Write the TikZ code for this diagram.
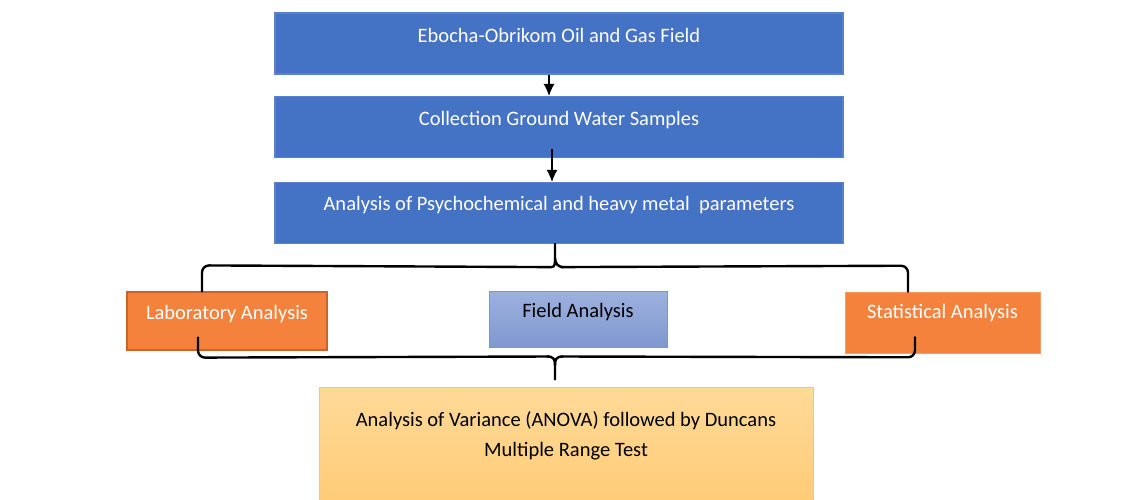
\documentclass[tikz,border=0pt]{standalone}
\usepackage{fontspec}
\setmainfont{Carlito}
\usetikzlibrary{arrows.meta,calc}
\definecolor{mblue}{HTML}{4472C4}
\definecolor{mblueedge}{HTML}{5A82CB}
\definecolor{morange}{HTML}{F4823C}
\definecolor{morangeedge}{HTML}{C8652E}
\definecolor{fieldtop}{HTML}{9DB1DE}
\definecolor{fieldbot}{HTML}{7F98D0}
\definecolor{fieldedge}{HTML}{7C95CB}
\definecolor{anovatop}{HTML}{FFDA98}
\definecolor{anovabot}{HTML}{FFCC78}
\definecolor{anovaedge}{HTML}{F6C772}
\tikzset{
  txt/.style={font=\fontsize{20.5}{27}\selectfont, inner sep=0pt},
  bluebox/.style={draw=mblueedge, line width=1.2pt, fill=mblue, minimum width=568pt, minimum height=61pt, inner sep=0pt},
  orangebox/.style={fill=morange, inner sep=0pt},
  fieldbox/.style={draw=fieldedge, line width=1pt, top color=fieldtop, bottom color=fieldbot, minimum width=178pt, minimum height=56pt, inner sep=0pt},
  anovabox/.style={draw=anovaedge, line width=1pt, top color=anovatop, bottom color=anovabot, minimum width=494pt, minimum height=113pt, inner sep=0pt},
  arr/.style={line width=1.1pt, -{Latex[length=12pt,width=11pt]}},
  brace/.style={line width=2.4pt, line cap=round},
}
\begin{document}
\begin{tikzpicture}[x=1pt,y=-1pt]
  \useasboundingbox (0,0) rectangle (1148,499);

  % main process boxes
  \node[bluebox] (b1) at (559,43.5) {};
  \node[bluebox] (b2) at (559,127) {};
  \node[bluebox] (b3) at (559,213) {};
  \node[txt, text=white] (t1) at (559,35) {Ebocha-Obrikom Oil and Gas Field};
  \node[txt, text=white] (t2) at (559,120) {Collection Ground Water Samples};
  \node[txt, text=white] (t3) at (559,205) {Analysis of Psychochemical and heavy metal\ \ parameters};

  % analysis branches
  \node[orangebox, draw=morangeedge, line width=1.2pt, minimum width=200pt, minimum height=58pt] (lab) at (227,321) {};
  \node[txt, text=white] (tlab) at (227,314) {Laboratory Analysis};
  \node[fieldbox] (field) at (578,319) {};
  \node[txt] (tfield) at (578,312) {Field Analysis};
  \node[orangebox, draw=morange!80!white, line width=0.6pt, minimum width=195pt, minimum height=61pt] (stat) at (942.5,322.5) {};
  \node[txt, text=white] (tstat) at (942.5,313) {Statistical Analysis};

  % final step
  \node[anovabox] (anova) at (566,443.5) {};
  \node[txt, align=center, font=\fontsize{20.5}{30}\selectfont] (tanova) at (566,436) {Analysis of Variance (ANOVA) followed by Duncans\\Multiple Range Test};

  % arrows between the main boxes
  \draw[arr] ($(b1.south)+(-10,0)$) -- ($(b2.north)+(-10,0)$);
  \draw[arr] ($(b2.south)+(-7,-9)$) -- ($(b3.north)+(-7,0)$);

  % upper brace: splits into the three branches
  \draw[brace, rounded corners=7pt]
    ($(lab.north)+(-25,0)$) -- ($(lab.north)+(-25,-26)$)
    -- ($(b3.south)+(-10,23)$);
  \draw[brace]
    ($(b3.south)+(-10,23)$) -- ($(b3.south)+(-8,23)$)
    .. controls ($(b3.south)+(-4,23)$) and ($(b3.south)+(-4,20)$) .. ($(b3.south)+(-4,14)$)
    -- ($(b3.south)+(-4,0)$);
  \draw[brace]
    ($(b3.south)+(-4,14)$) .. controls ($(b3.south)+(-4,20)$) and ($(b3.south)+(0,23)$) .. ($(b3.south)+(4,23)$);
  \draw[brace, rounded corners=7pt]
    ($(b3.south)+(2,23)$) -- ($(stat.north)+(-34.5,-26)$) -- ($(stat.north)+(-34.5,0)$);

  % lower brace: joins the branches into the final step
  \coordinate (cusp) at ($(anova.north)+(-11,-7)$);
  \draw[brace, rounded corners=7pt]
    ($(lab.south)+(-29,-13)$) -- ($(lab.south)+(-29,7)$)
    -- ($(cusp)+(-6,-23)$);
  \draw[brace]
    ($(cusp)+(-8,-23)$) .. controls ($(cusp)+(-1,-23)$) and ($(cusp)+(0,-20)$) .. ($(cusp)+(0,-14)$)
    -- (cusp);
  \draw[brace]
    ($(cusp)+(0,-14)$) .. controls ($(cusp)+(0,-20)$) and ($(cusp)+(1,-23)$) .. ($(cusp)+(8,-23)$);
  \draw[brace, rounded corners=7pt]
    ($(cusp)+(6,-23)$) -- ($(stat.south)+(-27.5,4)$)
    -- ($(stat.south)+(-27.5,-16)$);
\end{tikzpicture}
\end{document}
